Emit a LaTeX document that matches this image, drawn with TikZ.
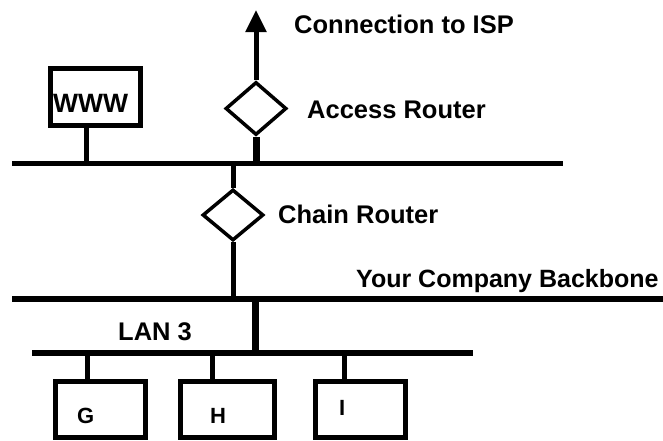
\documentclass[tikz,border=0pt]{standalone}
\usepackage{fontspec}
\setmainfont{Liberation Sans}
\usetikzlibrary{arrows.meta,shapes.geometric}
\begin{document}
\begin{tikzpicture}[x=1pt,y=-1pt,
  lbl/.style={font=\fontsize{25.5}{30}\selectfont\bfseries, inner sep=0pt},
  boxlbl/.style={font=\fontsize{22}{26}\selectfont\bfseries, inner sep=0pt},
  hostbox/.style={draw, line width=5pt, rectangle, inner sep=0pt},
  router/.style={draw, line width=3.5pt, diamond, inner sep=0pt, minimum width=61pt, minimum height=53pt},
  bus/.style={line width=5.5pt},
  drop/.style={line width=5pt},
  thickdrop/.style={line width=7pt}]
\useasboundingbox (0,0) rectangle (663,440);

% buses
\coordinate (l1w) at (12,163.5);
\coordinate (l1e) at (563,163.5);
\coordinate (bbw) at (12,299);
\coordinate (bbe) at (665,299);
\coordinate (lanw) at (32,353);
\coordinate (lane) at (473,353);
\draw[bus] (l1w) -- (l1e);
\draw[bus,line width=6pt] (bbw) -- (bbe);
\draw[bus,line width=6pt] (lanw) -- (lane);

% hosts
\node[hostbox, minimum width=90pt, minimum height=57pt] (www) at (95.5,97) {};
\node[lbl, anchor=base west, font=\fontsize{26.5}{30}\selectfont\bfseries] (wwwtxt) at (53,112) {WWW};
\node[hostbox, minimum width=90pt, minimum height=56pt] (g) at (100.5,409.5) {};
\node[hostbox, minimum width=94pt, minimum height=56pt] (h) at (227.5,409.5) {};
\node[hostbox, minimum width=90pt, minimum height=56pt] (i) at (360.5,409.5) {};
\node[boxlbl, anchor=base west] (gtxt) at (77,423) {G};
\node[boxlbl, anchor=base west] (htxt) at (210,423) {H};
\node[boxlbl, anchor=base west] (itxt) at (339,415) {I};

% routers
\node[router] (access) at (256,108.5) {};
\node[router, minimum height=51pt] (chain) at (233,215) {};
\coordinate (isp) at (256,10);

% labels
\node[lbl, anchor=base west] (isplbl) at (294,33) {Connection to ISP};
\node[lbl, anchor=base west] (acclbl) at (307,118) {Access Router};
\node[lbl, anchor=base west] (chlbl) at (278,223) {Chain Router};
\node[lbl, anchor=base west, font=\fontsize{25}{30}\selectfont\bfseries] (bblbl) at (356,287) {Your Company Backbone};
\node[lbl, anchor=base west] (lanlbl) at (118,340) {LAN 3};

% connectors
\draw[drop, -{Triangle[length=22pt,width=20pt]}] (access.north) -- (isp);
\draw[thickdrop] (access.south) -- (access.south |- l1w);
\draw[drop] ([xshift=-9.5pt]www.south) -- ([xshift=-9.5pt]www.south |- l1w);
\draw[drop] (chain.north) -- (chain.north |- l1w);
\draw[drop] (chain.south) -- (chain.south |- bbw);
\coordinate (lanup) at (255.5,299);
\draw[thickdrop] (lanup) -- (lanup |- lanw);
\draw[drop] ([xshift=-13.5pt]g.north) -- ([xshift=-13.5pt]g.north |- lanw);
\draw[drop] ([xshift=-15.5pt]h.north) -- ([xshift=-15.5pt]h.north |- lanw);
\draw[drop] ([xshift=-16.5pt]i.north) -- ([xshift=-16.5pt]i.north |- lanw);
\end{tikzpicture}
\end{document}
